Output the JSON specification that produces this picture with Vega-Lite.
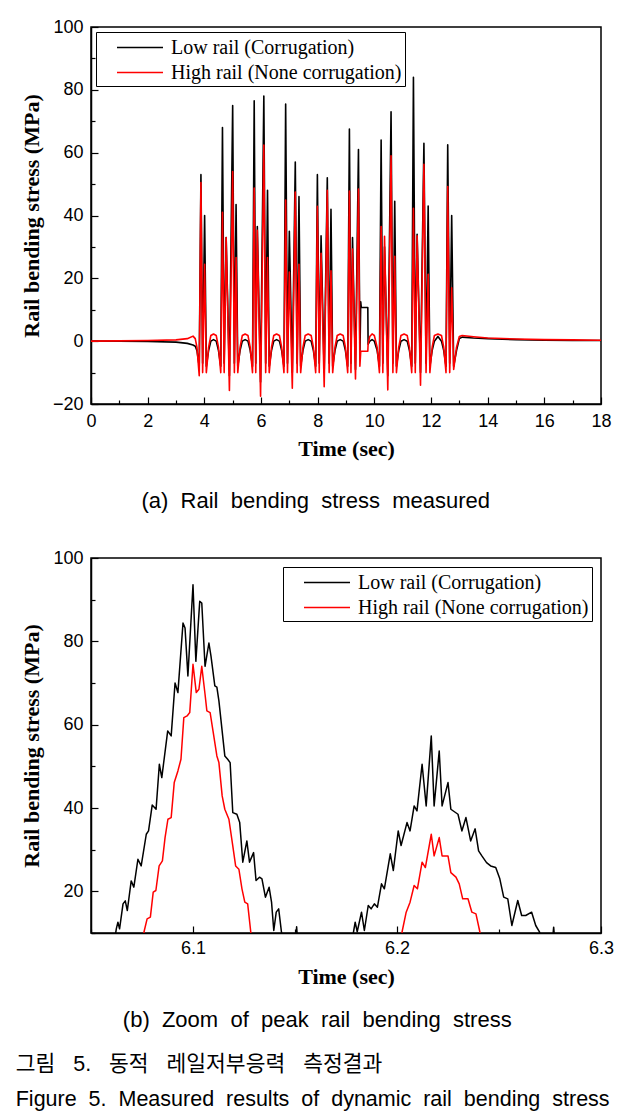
{
  "$schema": "https://vega.github.io/schema/vega-lite/v6.json",
  "background": "white",
  "padding": {"left": 15, "top": 17, "right": 5, "bottom": 5},
  "config": {
    "view": {"stroke": "black", "strokeWidth": 1.5},
    "axis": {"domainColor": "black", "domainWidth": 1.5, "tickColor": "black", "tickWidth": 1.2, "labelColor": "black", "labelFont": "Liberation Sans", "labelFontSize": 18, "titleFont": "Liberation Serif", "titleFontWeight": "bold", "titleFontSize": 22, "titleColor": "black", "grid": false},
    "legend": {"strokeColor": "black", "padding": 3, "labelFont": "Liberation Serif", "labelFontSize": 20, "labelColor": "black", "symbolType": "M-1,0H3", "symbolSize": 529, "symbolStrokeWidth": 1.5, "symbolOffset": 17, "labelOffset": 30, "rowPadding": 2, "labelLimit": 400}
  },
  "title": {"text": ["그림\u00a0\u00a0 5.\u00a0\u00a0 동적\u00a0\u00a0 레일저부응력\u00a0\u00a0 측정결과", "Figure\u00a0 5.\u00a0 Measured\u00a0 results\u00a0 of\u00a0 dynamic\u00a0 rail\u00a0 bending\u00a0 stress"], "orient": "bottom", "anchor": "start", "frame": "bounds", "dx": -4, "font": "Liberation Sans, Noto Sans CJK KR", "fontSize": 21.5, "fontWeight": "normal", "color": "black", "lineHeight": 35, "offset": 22},
  "datasets": {
    "a": [
      {"t": 0, "low": 0, "high": 0}, {"t": 1, "low": 0, "high": 0.1}, {"t": 2, "low": -0.1, "high": 0.2}, {"t": 3, "low": -0.3, "high": 0.4}, {"t": 3.4, "low": -0.7, "high": 0.8}, {"t": 3.6, "low": -1.2, "high": 1.6}, {"t": 3.68, "low": -1.6, "high": 0.8}, {"t": 3.74, "low": -3, "high": -2}, {"t": 3.82, "low": -8, "high": -11},
      {"t": 3.88, "low": 53, "high": 50.5}, {"t": 3.94, "low": -7, "high": -10}, {"t": 4.01, "low": 40, "high": 24.5}, {"t": 4.07, "low": -8, "high": -10},
      {"t": 4.15, "low": -3, "high": -2}, {"t": 4.23, "low": 0, "high": 1.8}, {"t": 4.325, "low": 0.5, "high": 2.3}, {"t": 4.42, "low": 0, "high": 1.8}, {"t": 4.5, "low": -3, "high": -2}, {"t": 4.58, "low": -8, "high": -10},
      {"t": 4.64, "low": 68, "high": 41}, {"t": 4.7, "low": -7, "high": -10}, {"t": 4.77, "low": 33, "high": 33}, {"t": 4.885, "low": -11, "high": -15.7},
      {"t": 5.0, "low": 75, "high": 54}, {"t": 5.06, "low": -7, "high": -10}, {"t": 5.12, "low": 43.5, "high": 26.6}, {"t": 5.18, "low": -8, "high": -10},
      {"t": 5.26, "low": -3, "high": -2}, {"t": 5.34, "low": 0, "high": 1.8}, {"t": 5.44, "low": 0.5, "high": 2.3}, {"t": 5.54, "low": 0, "high": 1.8}, {"t": 5.62, "low": -3, "high": -2}, {"t": 5.7, "low": -8, "high": -10},
      {"t": 5.76, "low": 76.5, "high": 48.7}, {"t": 5.815, "low": -7, "high": -10}, {"t": 5.87, "low": 36.5, "high": 35.3}, {"t": 5.985, "low": -13, "high": -17.5},
      {"t": 6.1, "low": 78, "high": 62.4}, {"t": 6.165, "low": -7, "high": -10}, {"t": 6.23, "low": 48, "high": 26.6}, {"t": 6.29, "low": -8, "high": -10},
      {"t": 6.37, "low": -3, "high": -2}, {"t": 6.45, "low": 0, "high": 1.8}, {"t": 6.55, "low": 0.5, "high": 2.3}, {"t": 6.65, "low": 0, "high": 1.8}, {"t": 6.73, "low": -3, "high": -2}, {"t": 6.81, "low": -8, "high": -10},
      {"t": 6.87, "low": 75.5, "high": 44.9}, {"t": 6.935, "low": -7, "high": -10}, {"t": 7.0, "low": 35, "high": 22}, {"t": 7.105, "low": -10, "high": -15},
      {"t": 7.21, "low": 57, "high": 47.5}, {"t": 7.275, "low": -7, "high": -10}, {"t": 7.34, "low": 46, "high": 24.5}, {"t": 7.4, "low": -8, "high": -10},
      {"t": 7.48, "low": -3, "high": -2}, {"t": 7.56, "low": 0, "high": 1.8}, {"t": 7.665, "low": 0.5, "high": 2.3}, {"t": 7.77, "low": 0, "high": 1.8}, {"t": 7.85, "low": -3, "high": -2}, {"t": 7.93, "low": -8, "high": -10},
      {"t": 7.99, "low": 53, "high": 42.9}, {"t": 8.055, "low": -7, "high": -10}, {"t": 8.12, "low": 33.5, "high": 28}, {"t": 8.23, "low": -10, "high": -14.5},
      {"t": 8.34, "low": 52, "high": 48}, {"t": 8.405, "low": -7, "high": -10}, {"t": 8.47, "low": 42, "high": 22.4}, {"t": 8.53, "low": -8, "high": -10},
      {"t": 8.61, "low": -3, "high": -2}, {"t": 8.69, "low": 0, "high": 1.8}, {"t": 8.795, "low": 0.5, "high": 2.3}, {"t": 8.9, "low": 0, "high": 1.8}, {"t": 8.98, "low": -3, "high": -2}, {"t": 9.06, "low": -8, "high": -10},
      {"t": 9.12, "low": 67.5, "high": 47.8}, {"t": 9.175, "low": -7, "high": -10}, {"t": 9.23, "low": 33, "high": 29.3}, {"t": 9.335, "low": -9, "high": -12},
      {"t": 9.44, "low": 61, "high": 48.4}, {"t": 9.49, "low": -5, "high": -8},
      {"t": 9.52, "low": 12.5, "high": -3.2}, {"t": 9.54, "low": 10.7, "high": -3.2}, {"t": 9.77, "low": 10.7, "high": -3.2}, {"t": 9.78, "low": -1, "high": -1},
      {"t": 9.84, "low": 0, "high": 1.5}, {"t": 9.92, "low": 0.5, "high": 2.3}, {"t": 10.0, "low": 0, "high": 1.8}, {"t": 10.1, "low": -3, "high": -2}, {"t": 10.18, "low": -8, "high": -10},
      {"t": 10.24, "low": 64, "high": 36.5}, {"t": 10.3, "low": -7, "high": -10}, {"t": 10.36, "low": 30, "high": 33.4}, {"t": 10.475, "low": -11, "high": -15.5},
      {"t": 10.59, "low": 73, "high": 59}, {"t": 10.655, "low": -7, "high": -10}, {"t": 10.72, "low": 44.5, "high": 27}, {"t": 10.78, "low": -8, "high": -10},
      {"t": 10.86, "low": -3, "high": -2}, {"t": 10.94, "low": 0, "high": 1.8}, {"t": 11.05, "low": 0.5, "high": 2.3}, {"t": 11.16, "low": 0, "high": 1.8}, {"t": 11.24, "low": -3, "high": -2}, {"t": 11.32, "low": -8, "high": -10},
      {"t": 11.38, "low": 84, "high": 42.3}, {"t": 11.445, "low": -7, "high": -10}, {"t": 11.51, "low": 34, "high": 33.5}, {"t": 11.63, "low": -10, "high": -14},
      {"t": 11.75, "low": 63, "high": 56.3}, {"t": 11.825, "low": -7, "high": -10}, {"t": 11.9, "low": 43, "high": 21.3}, {"t": 11.96, "low": -8, "high": -10},
      {"t": 12.04, "low": -3, "high": -2}, {"t": 12.12, "low": 0, "high": 1.8}, {"t": 12.245, "low": 1.5, "high": 2.3}, {"t": 12.37, "low": 0, "high": 1.8}, {"t": 12.45, "low": -3, "high": -2}, {"t": 12.53, "low": -8, "high": -10},
      {"t": 12.59, "low": 62.5, "high": 49.2}, {"t": 12.66, "low": -7, "high": -10}, {"t": 12.73, "low": 40, "high": 17}, {"t": 12.8, "low": -8, "high": -9},
      {"t": 12.9, "low": -3, "high": -2}, {"t": 13.0, "low": 0.8, "high": 1.5}, {"t": 13.1, "low": 1.3, "high": 1.8}, {"t": 13.5, "low": 1.0, "high": 1.4}, {"t": 14, "low": 0.8, "high": 1.0}, {"t": 15, "low": 0.5, "high": 0.7}, {"t": 16, "low": 0.3, "high": 0.5}, {"t": 17, "low": 0.2, "high": 0.4}, {"t": 18, "low": 0.2, "high": 0.3}
    ],
    "b": [
      {"t": 6.05, "stress": 3, "rail": "low"}, {"t": 6.0615, "stress": 8, "rail": "low"}, {"t": 6.0624, "stress": 11.0, "rail": "low"}, {"t": 6.0632, "stress": 12.6, "rail": "low"}, {"t": 6.064, "stress": 11.0, "rail": "low"}, {"t": 6.0657, "stress": 17.0, "rail": "low"}, {"t": 6.0668, "stress": 17.7, "rail": "low"}, {"t": 6.0678, "stress": 15.4, "rail": "low"}, {"t": 6.0697, "stress": 22.5, "rail": "low"}, {"t": 6.071, "stress": 21.0, "rail": "low"}, {"t": 6.073, "stress": 27.7, "rail": "low"}, {"t": 6.0746, "stress": 26.1, "rail": "low"}, {"t": 6.0771, "stress": 33.7, "rail": "low"}, {"t": 6.0782, "stress": 34.5, "rail": "low"}, {"t": 6.08, "stress": 40.7, "rail": "low"}, {"t": 6.0819, "stress": 39.7, "rail": "low"}, {"t": 6.0835, "stress": 50.5, "rail": "low"}, {"t": 6.0847, "stress": 47.3, "rail": "low"}, {"t": 6.0876, "stress": 58.5, "rail": "low"}, {"t": 6.0893, "stress": 57.3, "rail": "low"}, {"t": 6.0912, "stress": 70.0, "rail": "low"}, {"t": 6.0926, "stress": 67.7, "rail": "low"}, {"t": 6.0951, "stress": 84.4, "rail": "low"}, {"t": 6.0961, "stress": 83.2, "rail": "low"}, {"t": 6.0975, "stress": 71.7, "rail": "low"}, {"t": 6.1, "stress": 93.6, "rail": "low"}, {"t": 6.1014, "stress": 75.2, "rail": "low"}, {"t": 6.1033, "stress": 89.6, "rail": "low"}, {"t": 6.1043, "stress": 89.2, "rail": "low"}, {"t": 6.1059, "stress": 74.0, "rail": "low"}, {"t": 6.1078, "stress": 79.6, "rail": "low"}, {"t": 6.1088, "stress": 76.5, "rail": "low"}, {"t": 6.1107, "stress": 69.3, "rail": "low"}, {"t": 6.1117, "stress": 69.0, "rail": "low"}, {"t": 6.1127, "stress": 65.7, "rail": "low"}, {"t": 6.1156, "stress": 52.5, "rail": "low"}, {"t": 6.117, "stress": 51.7, "rail": "low"}, {"t": 6.1182, "stress": 50.9, "rail": "low"}, {"t": 6.1195, "stress": 38.9, "rail": "low"}, {"t": 6.1215, "stress": 38.5, "rail": "low"}, {"t": 6.1229, "stress": 36.5, "rail": "low"}, {"t": 6.1244, "stress": 27.0, "rail": "low"}, {"t": 6.1264, "stress": 32.1, "rail": "low"}, {"t": 6.1277, "stress": 27.0, "rail": "low"}, {"t": 6.1297, "stress": 29.3, "rail": "low"}, {"t": 6.1309, "stress": 22.6, "rail": "low"}, {"t": 6.1326, "stress": 23.4, "rail": "low"}, {"t": 6.1338, "stress": 23.0, "rail": "low"}, {"t": 6.1355, "stress": 18.6, "rail": "low"}, {"t": 6.1373, "stress": 21.0, "rail": "low"}, {"t": 6.1385, "stress": 17.4, "rail": "low"}, {"t": 6.1396, "stress": 10.6, "rail": "low"}, {"t": 6.1408, "stress": 15.0, "rail": "low"}, {"t": 6.142, "stress": 15.8, "rail": "low"}, {"t": 6.1434, "stress": 10.1, "rail": "low"}, {"t": 6.1445, "stress": 6, "rail": "low"}, {"t": 6.15, "stress": 6, "rail": "low"}, {"t": 6.1508, "stress": 11.5, "rail": "low"}, {"t": 6.1516, "stress": 6, "rail": "low"}, {"t": 6.1775, "stress": 6, "rail": "low"},
      {"t": 6.1787, "stress": 10.3, "rail": "low"}, {"t": 6.1795, "stress": 12.6, "rail": "low"}, {"t": 6.1805, "stress": 10.3, "rail": "low"}, {"t": 6.1826, "stress": 15.0, "rail": "low"}, {"t": 6.184, "stress": 10.6, "rail": "low"}, {"t": 6.1859, "stress": 16.6, "rail": "low"}, {"t": 6.1873, "stress": 15.8, "rail": "low"}, {"t": 6.1889, "stress": 17.0, "rail": "low"}, {"t": 6.1904, "stress": 16.2, "rail": "low"}, {"t": 6.1924, "stress": 21.8, "rail": "low"}, {"t": 6.1938, "stress": 20.6, "rail": "low"}, {"t": 6.1967, "stress": 29.0, "rail": "low"}, {"t": 6.1982, "stress": 25.0, "rail": "low"}, {"t": 6.2006, "stress": 34.5, "rail": "low"}, {"t": 6.202, "stress": 31.0, "rail": "low"}, {"t": 6.2049, "stress": 36.5, "rail": "low"}, {"t": 6.2064, "stress": 34.5, "rail": "low"}, {"t": 6.2084, "stress": 40.5, "rail": "low"}, {"t": 6.2098, "stress": 39.3, "rail": "low"}, {"t": 6.2123, "stress": 50.5, "rail": "low"}, {"t": 6.2143, "stress": 40.5, "rail": "low"}, {"t": 6.2168, "stress": 57.3, "rail": "low"}, {"t": 6.2182, "stress": 40.5, "rail": "low"}, {"t": 6.2207, "stress": 53.7, "rail": "low"}, {"t": 6.2221, "stress": 40.5, "rail": "low"}, {"t": 6.225, "stress": 46.1, "rail": "low"}, {"t": 6.2264, "stress": 39.7, "rail": "low"}, {"t": 6.2299, "stress": 38.5, "rail": "low"}, {"t": 6.2318, "stress": 34.5, "rail": "low"}, {"t": 6.2338, "stress": 37.7, "rail": "low"}, {"t": 6.2361, "stress": 32.1, "rail": "low"}, {"t": 6.2383, "stress": 35.0, "rail": "low"}, {"t": 6.24, "stress": 29.7, "rail": "low"}, {"t": 6.2416, "stress": 28.5, "rail": "low"}, {"t": 6.2439, "stress": 26.9, "rail": "low"}, {"t": 6.2459, "stress": 26.1, "rail": "low"}, {"t": 6.2484, "stress": 25.7, "rail": "low"}, {"t": 6.2504, "stress": 23.0, "rail": "low"}, {"t": 6.2523, "stress": 18.6, "rail": "low"}, {"t": 6.2543, "stress": 18.2, "rail": "low"}, {"t": 6.2563, "stress": 11.8, "rail": "low"}, {"t": 6.2592, "stress": 17.8, "rail": "low"}, {"t": 6.2611, "stress": 14.2, "rail": "low"}, {"t": 6.2631, "stress": 14.2, "rail": "low"}, {"t": 6.266, "stress": 15.0, "rail": "low"}, {"t": 6.268, "stress": 11.8, "rail": "low"}, {"t": 6.2699, "stress": 10.2, "rail": "low"}, {"t": 6.2709, "stress": 6, "rail": "low"}, {"t": 6.2758, "stress": 6, "rail": "low"}, {"t": 6.2768, "stress": 11.4, "rail": "low"}, {"t": 6.2777, "stress": 6, "rail": "low"}, {"t": 6.3, "stress": 3, "rail": "low"},
      {"t": 6.05, "stress": 2, "rail": "high"}, {"t": 6.0746, "stress": 5, "rail": "high"}, {"t": 6.076, "stress": 10.3, "rail": "high"}, {"t": 6.0775, "stress": 13.4, "rail": "high"}, {"t": 6.0791, "stress": 13.8, "rail": "high"}, {"t": 6.0805, "stress": 19.8, "rail": "high"}, {"t": 6.0818, "stress": 20.2, "rail": "high"}, {"t": 6.0834, "stress": 26.1, "rail": "high"}, {"t": 6.085, "stress": 27.3, "rail": "high"}, {"t": 6.0863, "stress": 32.9, "rail": "high"}, {"t": 6.0877, "stress": 37.3, "rail": "high"}, {"t": 6.0893, "stress": 37.7, "rail": "high"}, {"t": 6.0908, "stress": 46.1, "rail": "high"}, {"t": 6.0926, "stress": 48.9, "rail": "high"}, {"t": 6.0941, "stress": 51.7, "rail": "high"}, {"t": 6.0955, "stress": 61.7, "rail": "high"}, {"t": 6.0971, "stress": 62.1, "rail": "high"}, {"t": 6.0984, "stress": 62.9, "rail": "high"}, {"t": 6.1, "stress": 74.5, "rail": "high"}, {"t": 6.1016, "stress": 67.7, "rail": "high"}, {"t": 6.1029, "stress": 68.5, "rail": "high"}, {"t": 6.1043, "stress": 74.0, "rail": "high"}, {"t": 6.1059, "stress": 67.3, "rail": "high"}, {"t": 6.1068, "stress": 63.3, "rail": "high"}, {"t": 6.1084, "stress": 62.9, "rail": "high"}, {"t": 6.1098, "stress": 58.5, "rail": "high"}, {"t": 6.1117, "stress": 52.5, "rail": "high"}, {"t": 6.1127, "stress": 50.9, "rail": "high"}, {"t": 6.1143, "stress": 42.9, "rail": "high"}, {"t": 6.1156, "stress": 39.7, "rail": "high"}, {"t": 6.1176, "stress": 37.3, "rail": "high"}, {"t": 6.1195, "stress": 30.9, "rail": "high"}, {"t": 6.1209, "stress": 26.1, "rail": "high"}, {"t": 6.1225, "stress": 25.3, "rail": "high"}, {"t": 6.124, "stress": 20.6, "rail": "high"}, {"t": 6.1254, "stress": 17.4, "rail": "high"}, {"t": 6.1268, "stress": 17.0, "rail": "high"}, {"t": 6.1283, "stress": 10.3, "rail": "high"}, {"t": 6.1293, "stress": 5, "rail": "high"},
      {"t": 6.2016, "stress": 5, "rail": "high"}, {"t": 6.2025, "stress": 10.3, "rail": "high"}, {"t": 6.2045, "stress": 15.0, "rail": "high"}, {"t": 6.2064, "stress": 17.4, "rail": "high"}, {"t": 6.2084, "stress": 21.4, "rail": "high"}, {"t": 6.21, "stress": 20.6, "rail": "high"}, {"t": 6.2123, "stress": 27.0, "rail": "high"}, {"t": 6.2139, "stress": 25.7, "rail": "high"}, {"t": 6.2168, "stress": 33.7, "rail": "high"}, {"t": 6.2182, "stress": 28.5, "rail": "high"}, {"t": 6.2207, "stress": 32.9, "rail": "high"}, {"t": 6.2221, "stress": 28.5, "rail": "high"}, {"t": 6.225, "stress": 28.5, "rail": "high"}, {"t": 6.2264, "stress": 24.5, "rail": "high"}, {"t": 6.2289, "stress": 23.4, "rail": "high"}, {"t": 6.2305, "stress": 21.8, "rail": "high"}, {"t": 6.2322, "stress": 18.2, "rail": "high"}, {"t": 6.2348, "stress": 18.2, "rail": "high"}, {"t": 6.2367, "stress": 15.0, "rail": "high"}, {"t": 6.2387, "stress": 14.6, "rail": "high"}, {"t": 6.2406, "stress": 10.3, "rail": "high"}, {"t": 6.2416, "stress": 5, "rail": "high"}, {"t": 6.3, "stress": 2, "rail": "high"}
    ]
  },
  "vconcat": [
    {
      "width": 510,
      "height": 377,
      "title": {"text": "(a)\u00a0 Rail\u00a0 bending\u00a0 stress\u00a0 measured", "orient": "bottom", "anchor": "middle", "frame": "bounds", "font": "Liberation Sans", "fontSize": 22, "fontWeight": "normal", "color": "black", "offset": 32},
      "data": {"name": "a"},
      "transform": [{"fold": ["low", "high"], "as": ["rail", "stress"]}],
      "encoding": {
        "x": {"field": "t", "type": "quantitative", "scale": {"domain": [0, 18], "nice": false, "zero": false},
          "axis": {"title": "Time (sec)", "values": [0,1,2,3,4,5,6,7,8,9,10,11,12,13,14,15,16,17,18], "labelExpr": "datum.value % 2 === 0 ? datum.label : ''", "tickSize": {"condition": {"test": "datum.value % 2 === 0", "value": -7}, "value": -4}, "labelPadding": 15, "titlePadding": 8, "labelFlush": false}},
        "y": {"field": "stress", "type": "quantitative", "scale": {"domain": [-20, 100], "nice": false, "zero": false},
          "axis": {"title": "Rail bending stress (MPa)", "values": [-20,-10,0,10,20,30,40,50,60,70,80,90,100], "labelExpr": "datum.value % 20 === 0 ? datum.label : ''", "tickSize": {"condition": {"test": "datum.value % 20 === 0", "value": -7}, "value": -4}, "labelPadding": 15, "titlePadding": 9, "labelFlush": false}},
        "color": {"field": "rail", "type": "nominal", "scale": {"domain": ["low", "high"], "range": ["#000000", "#ff0000"]},
          "legend": {"title": null, "orient": "top-left", "offset": 5, "labelExpr": "datum.value === 'low' ? 'Low rail (Corrugation)\u00a0\u00a0\u00a0\u00a0' : 'High rail (None corrugation)\u00a0\u00a0\u00a0\u00a0'"}}
      },
      "layer": [
        {"transform": [{"filter": "datum.rail === 'low'"}], "mark": {"type": "line", "strokeWidth": 1.6, "strokeJoin": "round"}},
        {"transform": [{"filter": "datum.rail === 'high'"}], "mark": {"type": "line", "strokeWidth": 1.6, "strokeJoin": "round"}}
      ]
    },
    {
      "width": 510,
      "height": 375,
      "title": {"text": "(b)\u00a0 Zoom\u00a0 of\u00a0 peak\u00a0 rail\u00a0 bending\u00a0 stress", "orient": "bottom", "anchor": "middle", "frame": "bounds", "font": "Liberation Sans", "fontSize": 22, "fontWeight": "normal", "color": "black", "offset": 23},
      "data": {"name": "b"},
      "encoding": {
        "x": {"field": "t", "type": "quantitative", "scale": {"domain": [6.05, 6.3], "nice": false, "zero": false},
          "axis": {"title": "Time (sec)", "values": [6.05, 6.1, 6.15, 6.2, 6.25, 6.3], "format": ".1f", "labelExpr": "round(datum.value * 100) % 10 === 0 ? datum.label : ''", "tickSize": {"condition": {"test": "round(datum.value * 100) % 10 === 0", "value": -7}, "value": -4}, "labelPadding": 13, "titlePadding": 9, "labelFlush": false}},
        "y": {"field": "stress", "type": "quantitative", "scale": {"domain": [10, 100], "nice": false, "zero": false},
          "axis": {"title": "Rail bending stress (MPa)", "values": [10,20,30,40,50,60,70,80,90,100], "labelExpr": "datum.value % 20 === 0 ? datum.label : ''", "tickSize": {"condition": {"test": "datum.value % 20 === 0", "value": -7}, "value": -4}, "labelPadding": 15, "titlePadding": 9, "labelFlush": false}},
        "color": {"field": "rail", "type": "nominal", "scale": {"domain": ["low", "high"], "range": ["#000000", "#ff0000"]},
          "legend": {"title": null, "orient": "top-right", "offset": 9, "labelExpr": "datum.value === 'low' ? 'Low rail (Corrugation)\u00a0\u00a0' : 'High rail (None corrugation)\u00a0\u00a0'"}}
      },
      "layer": [
        {"transform": [{"filter": "datum.rail === 'low'"}], "mark": {"type": "line", "strokeWidth": 1.5, "strokeJoin": "round", "clip": true}},
        {"transform": [{"filter": "datum.rail === 'high'"}], "mark": {"type": "line", "strokeWidth": 1.5, "strokeJoin": "round", "clip": true}}
      ]
    }
  ],
  "spacing": 35,
  "resolve": {"scale": {"color": "independent"}, "legend": {"color": "independent"}}
}
